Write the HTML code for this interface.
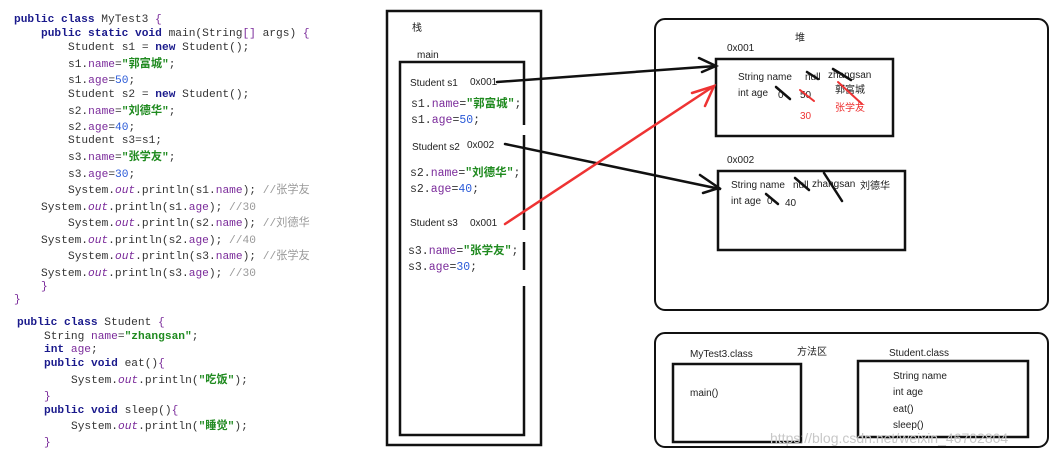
<!DOCTYPE html>
<html><head><meta charset="utf-8"><style>
html,body{margin:0;padding:0;background:#fff;}
svg{display:block}
.c{font-family:"Liberation Mono","Noto Sans CJK SC",monospace;font-size:11.2px;fill:#333;}
.k{fill:#1a1a8c;font-weight:bold}
.s{fill:#1f8a1f;font-weight:bold}
.n{fill:#2a5ad8}
.f{fill:#7a2a9a}
.i{fill:#7a2a9a;font-style:italic}
.cm{fill:#999}
.h{font-family:"Liberation Sans","Noto Sans CJK SC",sans-serif;font-size:10px;fill:#222;}
</style></head><body>
<svg width="1051" height="456" viewBox="0 0 1051 456" xmlns="http://www.w3.org/2000/svg">
<g class="c">
<text x="14" y="22"><tspan class="k">public class</tspan> MyTest3 <tspan class="f">{</tspan></text>
<text x="41" y="36"><tspan class="k">public static void</tspan> main(String<tspan class="f">[]</tspan> args) <tspan class="f">{</tspan></text>
<text x="68" y="50">Student s1 = <tspan class="k">new</tspan> Student();</text>
<text x="68" y="67">s1.<tspan class="f">name</tspan>=<tspan class="s">"郭富城"</tspan>;</text>
<text x="68" y="83">s1.<tspan class="f">age</tspan>=<tspan class="n">50</tspan>;</text>
<text x="68" y="97">Student s2 = <tspan class="k">new</tspan> Student();</text>
<text x="68" y="114">s2.<tspan class="f">name</tspan>=<tspan class="s">"刘德华"</tspan>;</text>
<text x="68" y="130">s2.<tspan class="f">age</tspan>=<tspan class="n">40</tspan>;</text>
<text x="68" y="143">Student s3=s1;</text>
<text x="68" y="160">s3.<tspan class="f">name</tspan>=<tspan class="s">"张学友"</tspan>;</text>
<text x="68" y="177">s3.<tspan class="f">age</tspan>=<tspan class="n">30</tspan>;</text>
<text x="68" y="193">System.<tspan class="i">out</tspan>.println(s1.<tspan class="f">name</tspan>); <tspan class="cm">//张学友</tspan></text>
<text x="41" y="210">System.<tspan class="i">out</tspan>.println(s1.<tspan class="f">age</tspan>); <tspan class="cm">//30</tspan></text>
<text x="68" y="226">System.<tspan class="i">out</tspan>.println(s2.<tspan class="f">name</tspan>); <tspan class="cm">//刘德华</tspan></text>
<text x="41" y="243">System.<tspan class="i">out</tspan>.println(s2.<tspan class="f">age</tspan>); <tspan class="cm">//40</tspan></text>
<text x="68" y="259">System.<tspan class="i">out</tspan>.println(s3.<tspan class="f">name</tspan>); <tspan class="cm">//张学友</tspan></text>
<text x="41" y="276">System.<tspan class="i">out</tspan>.println(s3.<tspan class="f">age</tspan>); <tspan class="cm">//30</tspan></text>
<text x="41" y="289"><tspan class="f">}</tspan></text>
<text x="14" y="302"><tspan class="f">}</tspan></text>
<text x="17" y="325"><tspan class="k">public class</tspan> Student <tspan class="f">{</tspan></text>
<text x="44" y="339">String <tspan class="f">name</tspan>=<tspan class="s">"zhangsan"</tspan>;</text>
<text x="44" y="352"><tspan class="k">int</tspan> <tspan class="f">age</tspan>;</text>
<text x="44" y="366"><tspan class="k">public void</tspan> eat()<tspan class="f">{</tspan></text>
<text x="71" y="383">System.<tspan class="i">out</tspan>.println(<tspan class="s">"吃饭"</tspan>);</text>
<text x="44" y="399"><tspan class="f">}</tspan></text>
<text x="44" y="413"><tspan class="k">public void</tspan> sleep()<tspan class="f">{</tspan></text>
<text x="71" y="429">System.<tspan class="i">out</tspan>.println(<tspan class="s">"睡觉"</tspan>);</text>
<text x="44" y="445"><tspan class="f">}</tspan></text>
</g>

<!-- stack -->
<rect x="387" y="11" width="154" height="434" fill="none" stroke="#111" stroke-width="2.5"/>
<rect x="400" y="62" width="124" height="373" fill="none" stroke="#111" stroke-width="2.5"/>
<rect x="519" y="125" width="10" height="10" fill="#fff"/>
<rect x="519" y="230" width="10" height="12" fill="#fff"/>
<rect x="519" y="270" width="10" height="16" fill="#fff"/>
<g class="h">
<text x="412" y="31">栈</text>
<text x="417" y="58">main</text>
<text x="410" y="86">Student s1</text><text x="470" y="85">0x001</text>
<text x="412" y="150">Student s2</text><text x="467" y="148">0x002</text>
<text x="410" y="226">Student s3</text><text x="470" y="226">0x001</text>
</g>
<g class="c" style="font-size:11.5px">
<text x="411" y="107">s1.<tspan class="f">name</tspan>=<tspan class="s">"郭富城"</tspan>;</text>
<text x="411" y="123">s1.<tspan class="f">age</tspan>=<tspan class="n">50</tspan>;</text>
<text x="410" y="176">s2.<tspan class="f">name</tspan>=<tspan class="s">"刘德华"</tspan>;</text>
<text x="410" y="192">s2.<tspan class="f">age</tspan>=<tspan class="n">40</tspan>;</text>
<text x="408" y="254">s3.<tspan class="f">name</tspan>=<tspan class="s">"张学友"</tspan>;</text>
<text x="408" y="270">s3.<tspan class="f">age</tspan>=<tspan class="n">30</tspan>;</text>
</g>

<!-- heap -->
<rect x="655" y="19" width="393" height="291" rx="10" fill="none" stroke="#111" stroke-width="2"/>
<rect x="716" y="59" width="177" height="77" fill="none" stroke="#111" stroke-width="2.5"/>
<rect x="718" y="171" width="187" height="79" fill="none" stroke="#111" stroke-width="2.5"/>
<g class="h">
<text x="795" y="41">堆</text>
<text x="727" y="51">0x001</text>
<text x="727" y="163">0x002</text>
<text x="738" y="80">String name</text>
<text x="805" y="80">null</text>
<text x="828" y="78">zhangsan</text>
<text x="835" y="93">郭富城</text>
<text x="738" y="96">int age</text>
<text x="778" y="98">0</text>
<text x="800" y="98">50</text>
<text x="835" y="111" style="fill:#e33">张学友</text>
<text x="800" y="119" style="fill:#e33">30</text>
<text x="731" y="188">String name</text>
<text x="793" y="188">null</text>
<text x="812" y="187">zhangsan</text>
<text x="860" y="189">刘德华</text>
<text x="731" y="204">int age</text>
<text x="767" y="204">0</text>
<text x="785" y="206">40</text>
</g>
<g stroke="#111" stroke-width="2.5" stroke-linecap="round">
<line x1="807" y1="72" x2="818" y2="79"/>
<line x1="833" y1="69" x2="851" y2="80"/>
<line x1="776" y1="87" x2="790" y2="99"/>
<line x1="795" y1="178" x2="809" y2="190"/>
<line x1="824" y1="173" x2="842" y2="201"/>
<line x1="766" y1="194" x2="778" y2="204"/>
</g>
<g stroke="#e33" stroke-width="2" stroke-linecap="round">
<line x1="800" y1="90" x2="814" y2="101"/>
<line x1="838" y1="82" x2="862" y2="104"/>
</g>

<!-- arrows -->
<g stroke="#111" stroke-width="2.5" fill="none" stroke-linecap="round">
<line x1="497" y1="82" x2="716" y2="66"/>
<polyline points="699,58 716,66 702,72"/>
<line x1="505" y1="144" x2="720" y2="189"/>
<polyline points="700,175 719,188 703,193"/>
</g>
<g stroke="#e33" stroke-width="2.5" fill="none" stroke-linecap="round">
<line x1="505" y1="224" x2="714" y2="86"/>
<polyline points="692,93 714,86 705,106"/>
</g>

<!-- method area -->
<rect x="655" y="333" width="393" height="114" rx="10" fill="none" stroke="#111" stroke-width="2"/>
<rect x="673" y="364" width="128" height="78" fill="none" stroke="#111" stroke-width="2.5"/>
<rect x="858" y="361" width="170" height="76" fill="none" stroke="#111" stroke-width="2.5"/>
<g class="h">
<text x="797" y="355">方法区</text>
<text x="690" y="357">MyTest3.class</text>
<text x="889" y="356">Student.class</text>
<text x="690" y="396">main()</text>
<text x="893" y="379">String name</text>
<text x="893" y="395">int age</text>
<text x="893" y="412">eat()</text>
<text x="893" y="428">sleep()</text>
</g>
<text x="770" y="443" style="font-family:'Liberation Sans',sans-serif;font-size:14px;fill:#c8c8c8">https://blog.csdn.net/weixin_46702804</text>
</svg>
</body></html>
